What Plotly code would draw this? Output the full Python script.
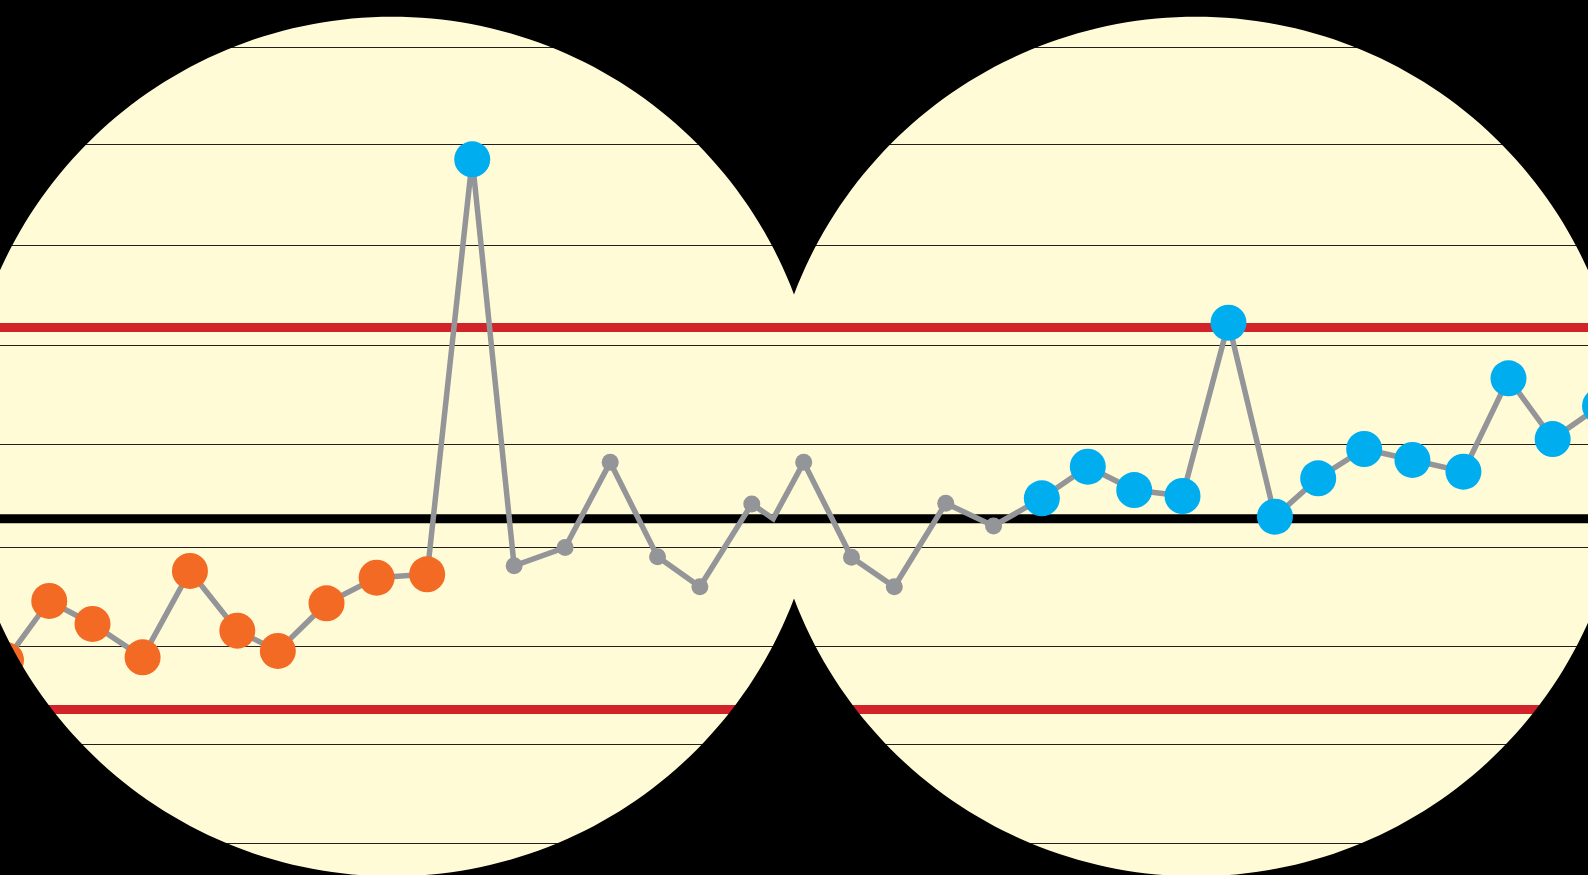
import numpy as np
import plotly.graph_objects as go

# ---- data ----
sample_x = [0.00, 0.95, 1.90, 3.00, 4.04, 5.08, 5.97, 7.04, 8.14, 9.25,
            10.24, 11.16, 12.28, 13.27, 14.31, 15.24, 16.38, 16.85, 17.52, 18.57,
            19.51, 20.64, 21.69, 22.75, 23.76, 24.78, 25.84, 26.85, 27.87, 28.82,
            29.83, 30.89, 32.01, 33.00, 33.97, 35.01]
sample_y = [18.50, 24.43, 22.12, 18.77, 27.44, 21.45, 19.41, 24.20, 26.77, 27.11,
            68.78, 27.97, 29.80, 38.35, 28.87, 25.86, 34.17, 32.69, 38.35, 28.81,
            25.86, 34.24, 31.96, 34.74, 37.91, 35.57, 34.97, 52.37, 32.89, 36.75,
            39.69, 38.59, 37.41, 46.79, 40.69, 44.01]
sample_group = (["low"] * 10 + ["high"] + ["mid"] * 6 + ["none"] + ["mid"] * 5
                + ["high"] * 13)

center_line = 32.69
upper_limit = 51.89
lower_limit = 13.53
grid_values = [0.1, 10.0, 19.9, 29.8, 40.1, 50.1, 60.1, 70.3, 80.0]

# ---- styles ----
W, H = 1588, 875
BG = "#FFFBD6"
GRAY = "#939598"
ORANGE = "#F36A24"
BLUE = "#00AEEF"
RED = "#D2232A"

fig = go.Figure()

fig.add_trace(go.Scatter(x=sample_x, y=sample_y, mode="lines",
                         line=dict(color=GRAY, width=5.5), hoverinfo="skip"))

style = {"low": (ORANGE, 36), "high": (BLUE, 36), "mid": (GRAY, 17)}
for g, (col, size) in style.items():
    xs = [x for x, gg in zip(sample_x, sample_group) if gg == g]
    ys = [y for y, gg in zip(sample_y, sample_group) if gg == g]
    fig.add_trace(go.Scatter(x=xs, y=ys, mode="markers",
                             marker=dict(color=col, size=size, line=dict(width=0))))

# control lines
for val, col in [(upper_limit, RED), (lower_limit, RED), (center_line, "#000000")]:
    fig.add_shape(type="line", xref="paper", x0=0, x1=1, yref="y", y0=val, y1=val,
                  line=dict(color=col, width=9), layer="between")

# binocular mask: rectangle minus union of two circles
cy, r = 446.5, 429.8
cxl, cxr = 392.0, 1196.0
half = (cxr - cxl) / 2
a = np.degrees(np.arctan2(np.sqrt(r * r - half * half), half))
pts = []
for t in np.linspace(-a, -360 + a, 240):
    tt = np.radians(t)
    pts.append((cxl + r * np.cos(tt), cy + r * np.sin(tt)))
for t in np.linspace(180 - a, -180 + a, 240):
    tt = np.radians(t)
    pts.append((cxr + r * np.cos(tt), cy + r * np.sin(tt)))

def P(px, py):
    return f"{px / W:.6f},{1 - py / H:.6f}"

path = "M -0.01,-0.01 L 1.01,-0.01 L 1.01,1.01 L -0.01,1.01 Z "
path += "M " + " L ".join(P(px, py) for px, py in pts) + " Z"
fig.add_shape(type="path", xref="paper", yref="paper", path=path,
              fillcolor="#000000", fillrule="evenodd", line=dict(width=0),
              layer="above")

fig.update_layout(
    width=W, height=H, autosize=False,
    margin=dict(l=0, r=0, t=0, b=0, pad=0),
    plot_bgcolor=BG, paper_bgcolor="#000000",
    showlegend=False,
    xaxis=dict(range=[-0.1318, 34.746], visible=False, fixedrange=True),
    yaxis=dict(range=[-3.086, 84.775], tickvals=grid_values, showgrid=True,
               gridcolor="#231F20", gridwidth=1.2, showticklabels=False,
               ticks="", zeroline=False, showline=False, fixedrange=True),
)

fig.write_html("out.html", config={"displayModeBar": False},
               post_script="document.body.style.margin='0';document.body.style.overflow='hidden';")
